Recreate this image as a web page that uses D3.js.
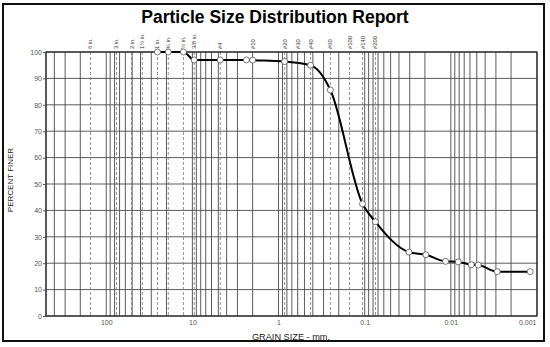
<!DOCTYPE html>
<html>
<head>
<meta charset="utf-8">
<script src="https://cdn.jsdelivr.net/npm/d3@7"></script>
<style>
  body { margin: 0; background: #fff; }
  text { font-family: "Liberation Sans", Arial, sans-serif; }
</style>
</head>
<body>
<svg id="drawing_region"></svg>
<script>
// sieve openings (mm) and their labels
const sieveLabels = ['6 in.', '3 in.', '2 in.', '1\u00bd in.', '1 in.', '\u00be in.', '\u00bd in.', '3/8 in.',
    '#4', '#10', '#20', '#30', '#40', '#60', '#100', '#140', '#200'];
const sieveSizes = [152.4, 76.2, 50.8, 38.1, 25.4, 19.05, 12.7, 9.525,
    4.75, 2.0, 0.85, 0.6, 0.425, 0.25, 0.15, 0.106, 0.075];

// test results
const grainSize = [25.4, 19.05, 12.7, 9.525, 4.75, 2.36, 2.0, 0.85, 0.425, 0.25,
    0.106, 0.075, 0.0306, 0.0195, 0.0115, 0.0082, 0.0058, 0.0048, 0.0029, 0.0012];
const percentFiner = [100, 100, 100, 97, 97, 97, 96.9, 96.4, 95, 85.6,
    42.5, 35.7, 24.2, 23.2, 20.7, 20.5, 19.4, 19.3, 16.8, 16.8];

const xTicks = [100, 10, 1, 0.1, 0.01, 0.001];
const xTickLabels = ['100', '10', '1', '0.1', '0.01', '0.001'];
const yTicks = [0, 10, 20, 30, 40, 50, 60, 70, 80, 90, 100];

const width = 550;
const height = 347;
const margin = {top: 52, right: 13, bottom: 31, left: 46};

const svg = d3.select('#drawing_region')
    .attr('width', width)
    .attr('height', height);

const inner_width = width - margin.left - margin.right;
const inner_height = height - margin.top - margin.bottom;

// outer frame
svg.append('rect')
    .attr('x', 3).attr('y', 4)
    .attr('width', 541).attr('height', 337)
    .attr('fill', 'none')
    .attr('stroke', '#111')
    .attr('stroke-width', 2);

svg.append('text')
    .attr('x', 275).attr('y', 23)
    .attr('text-anchor', 'middle')
    .attr('font-size', 17.5)
    .attr('font-weight', 'bold')
    .text('Particle Size Distribution Report');

const chart = svg.append('g')
    .attr('transform', `translate(${margin.left}, ${margin.top})`);

const xscale = d3.scaleLog()
    .domain([500, 0.001])
    .range([0, inner_width]);

const yscale = d3.scaleLinear()
    .domain([0, 100])
    .range([inner_height, 0]);

// log grid lines: 1..9 in every decade
const gridVals = [];
for (let e = -3; e <= 2; e++) {
    for (let m = 1; m <= 9; m++) {
        const v = m * Math.pow(10, e);
        if (v >= 0.001 && v <= 500) gridVals.push(v);
    }
}

chart.append('g')
    .selectAll('line')
    .data(gridVals)
    .join('line')
    .attr('x1', d => xscale(d)).attr('x2', d => xscale(d))
    .attr('y1', 0).attr('y2', inner_height)
    .attr('stroke', '#4a4a4a')
    .attr('stroke-width', 0.9);

chart.append('g')
    .selectAll('line')
    .data(yTicks)
    .join('line')
    .attr('x1', 0).attr('x2', inner_width)
    .attr('y1', d => yscale(d)).attr('y2', d => yscale(d))
    .attr('stroke', '#4a4a4a')
    .attr('stroke-width', 0.9);

// sieve lines
chart.append('g')
    .selectAll('line')
    .data(sieveSizes)
    .join('line')
    .attr('x1', d => xscale(d)).attr('x2', d => xscale(d))
    .attr('y1', 0).attr('y2', inner_height)
    .attr('stroke', '#777')
    .attr('stroke-width', 0.8)
    .attr('stroke-dasharray', '3,2');

chart.append('g')
    .selectAll('text')
    .data(sieveSizes)
    .join('text')
    .attr('transform', d => `translate(${xscale(d) + 2}, -3) rotate(-90)`)
    .attr('font-size', 5.8)
    .attr('fill', '#333')
    .text((d, i) => sieveLabels[i]);

// plot border
chart.append('rect')
    .attr('width', inner_width).attr('height', inner_height)
    .attr('fill', 'none')
    .attr('stroke', '#222')
    .attr('stroke-width', 1.2);

// axes
const xaxis = d3.axisBottom(xscale)
    .tickValues(xTicks)
    .tickFormat((d, i) => xTickLabels[i])
    .tickSize(0)
    .tickPadding(4);

const yaxis = d3.axisLeft(yscale)
    .tickValues(yTicks)
    .tickSize(3)
    .tickPadding(1);

const xg = chart.append('g')
    .attr('transform', `translate(0, ${inner_height})`)
    .call(xaxis);
const yg = chart.append('g').call(yaxis);

[xg, yg].forEach(g => {
    g.select('.domain').remove();
    g.selectAll('text')
        .attr('font-family', '"Liberation Sans", Arial, sans-serif')
        .attr('font-size', 7)
        .attr('fill', '#555');
    g.selectAll('.tick line').attr('stroke', '#555');
});

// last label kept inside the plot edge
xg.selectAll('.tick text')
    .filter(d => d === 0.001)
    .attr('text-anchor', 'end')
    .attr('dx', -1);

svg.append('text')
    .attr('transform', `translate(13, 180) rotate(-90)`)
    .attr('text-anchor', 'middle')
    .attr('font-size', 8)
    .attr('fill', '#222')
    .text('PERCENT FINER');

svg.append('text')
    .attr('x', 291).attr('y', 339.5)
    .attr('text-anchor', 'middle')
    .attr('font-size', 9.2)
    .attr('fill', '#222')
    .text('GRAIN SIZE - mm.');

// gradation curve
const points = grainSize.map((g, i) => ({size: g, pct: percentFiner[i]}));

const line = d3.line()
    .x(d => xscale(d.size))
    .y(d => yscale(d.pct))
    .curve(d3.curveMonotoneX);

chart.append('path')
    .attr('d', line(points))
    .attr('fill', 'none')
    .attr('stroke', 'black')
    .attr('stroke-width', 2);

chart.selectAll('circle')
    .data(points)
    .enter().append('circle')
    .attr('cx', d => xscale(d.size))
    .attr('cy', d => yscale(d.pct))
    .attr('r', 3)
    .attr('fill', 'white')
    .attr('stroke', '#555')
    .attr('stroke-width', 0.8);
</script>
</body>
</html>
